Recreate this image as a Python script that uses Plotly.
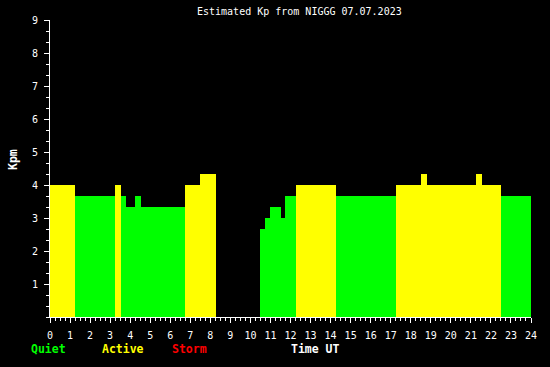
import plotly.graph_objects as go

# Data: step segments (start hour, end hour, Kp value)
seg_start = [0.0, 1.25, 3.25, 3.53, 3.8, 4.25, 4.55, 6.75, 7.5,
             10.5, 10.75, 11.0, 11.55, 11.75, 12.25, 14.28, 17.25, 18.5, 18.8, 21.25, 21.55, 22.5]
seg_end = [1.25, 3.25, 3.53, 3.8, 4.25, 4.55, 6.75, 7.5, 8.28,
           10.75, 11.0, 11.55, 11.75, 12.25, 14.28, 17.25, 18.5, 18.8, 21.25, 21.55, 22.5, 24.0]
kp_values = [4.0, 3.67, 4.0, 3.67, 3.33, 3.67, 3.33, 4.0, 4.33,
             2.67, 3.0, 3.33, 3.0, 3.67, 4.0, 3.67, 4.0, 4.33, 4.0, 4.33, 4.0, 3.67]

x_ticks = list(range(0, 25))
y_ticks = list(range(1, 10))

QUIET = "#00ff00"
ACTIVE = "#ffff00"
STORM = "#ff0000"


def kp_color(v):
    if v >= 5:
        return STORM
    if v >= 4:
        return ACTIVE
    return QUIET


centers = [(a + b) / 2 for a, b in zip(seg_start, seg_end)]
widths = [b - a for a, b in zip(seg_start, seg_end)]
colors = [kp_color(v) for v in kp_values]

fig = go.Figure(go.Bar(
    x=centers, y=kp_values, width=widths,
    marker=dict(color=colors, line=dict(width=0)),
    hoverinfo="skip",
))

W, H = 550, 367
L, R, T, B = 50, 19, 20, 50
pw, ph = W - L - R, H - T - B


def px(x):
    return (x - L) / pw


def py(y):
    return (H - B - y) / ph


mono = "DejaVu Sans Mono"

fig.update_layout(
    width=W, height=H,
    margin=dict(l=L, r=R, t=T, b=B, pad=0),
    paper_bgcolor="black", plot_bgcolor="black",
    showlegend=False,
    font=dict(family=mono, color="white", size=10),
    bargap=0,
)

fig.update_xaxes(
    range=[0, 24], tickvals=x_ticks, ticktext=[str(v) for v in x_ticks],
    showgrid=False, zeroline=False,
    showline=True, linecolor="white", linewidth=1,
    ticks="outside", ticklen=5, tickcolor="white", tickwidth=1,
    minor=dict(dtick=0.25, tick0=0, ticks="outside", ticklen=3, tickcolor="white", tickwidth=1, showgrid=False),
    tickfont=dict(family=mono, size=10, color="white"),
    ticklabelstandoff=4,
    layer="below traces", fixedrange=True,
)
fig.update_yaxes(
    range=[0, 9], tickvals=y_ticks, ticktext=[str(v) for v in y_ticks],
    showgrid=False, zeroline=False,
    showline=True, linecolor="white", linewidth=1,
    ticks="outside", ticklen=5, tickcolor="white", tickwidth=1,
    minor=dict(dtick=1/3, tick0=0, ticks="outside", ticklen=3, tickcolor="white", tickwidth=1, showgrid=False),
    tickfont=dict(family=mono, size=10, color="white"),
    ticklabelstandoff=4,
    layer="below traces", fixedrange=True,
)

ann = [
    dict(text="Estimated Kp from NIGGG 07.07.2023", x=px(299), y=py(12), xanchor="center", yanchor="middle",
         font=dict(family=mono, size=10, color="white")),
    dict(text="<b>Kpm</b>", x=px(13), y=py(160), xanchor="center", yanchor="middle", textangle=-90,
         font=dict(family=mono, size=11.5, color="white")),
    dict(text="<b>Quiet</b>", x=px(29), y=py(349), xanchor="left", yanchor="middle",
         font=dict(family=mono, size=11.5, color=QUIET)),
    dict(text="<b>Active</b>", x=px(100), y=py(349), xanchor="left", yanchor="middle",
         font=dict(family=mono, size=11.5, color=ACTIVE)),
    dict(text="<b>Storm</b>", x=px(170), y=py(349), xanchor="left", yanchor="middle",
         font=dict(family=mono, size=11.5, color=STORM)),
    dict(text="<b>Time UT</b>", x=px(289), y=py(349), xanchor="left", yanchor="middle",
         font=dict(family=mono, size=11.5, color="white")),
]
for a in ann:
    a.update(xref="paper", yref="paper", showarrow=False)
fig.update_layout(annotations=ann)

fig.write_html("out.html")
